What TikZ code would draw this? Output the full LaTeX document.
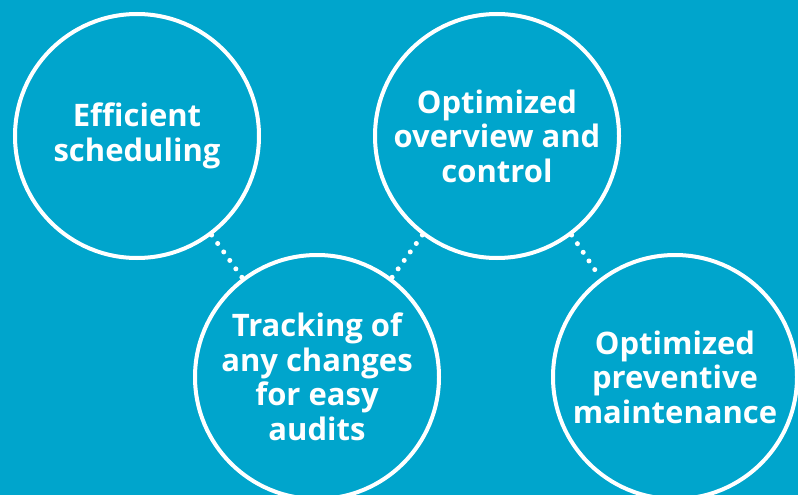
\documentclass[tikz,border=0pt]{standalone}
\usepackage{fontspec}
\setmainfont{Open Sans}
\usepackage{tikz}
\usetikzlibrary{positioning}

\definecolor{bgblue}{RGB}{0,165,204}

\begin{document}
\begin{tikzpicture}[
        x=1pt, y=1pt,
        bubble/.style = {circle, draw=white, line width=4pt, minimum size=244pt,
                         inner sep=0pt, align=center, text=white,
                         font=\fontsize{31}{34.5}\selectfont\bfseries},
        dotline/.style = {draw=white, line width=5pt, line cap=round,
                          dash pattern=on 0pt off 10.4pt}]

        % background and fixed size
        \fill[bgblue] (0,0) rectangle (798,-495);
        \useasboundingbox (0,0) rectangle (798,-495);

        % upper row
        \node[bubble] (c1) at (137,-136) {Efficient\\scheduling};
        \node[bubble, right=112pt of c1] (c2) {Optimized\\overview and\\control};

        % lower row, relatively positioned nodes
        \node[bubble, below=-7pt of c1, xshift=180pt] (c3) {Tracking of\\any changes\\for easy\\audits};
        \node[bubble, right=110pt of c3] (c4) {Optimized\\preventive\\maintenance};

        % dotted links between the circles
        \draw[dotline] (c1.-53) -- (c3.127);
        \draw[dotline] (c2.-127) -- (c3.53);
        \draw[dotline] (c2.-53) -- (c4.127);

    \end{tikzpicture}
\end{document}
